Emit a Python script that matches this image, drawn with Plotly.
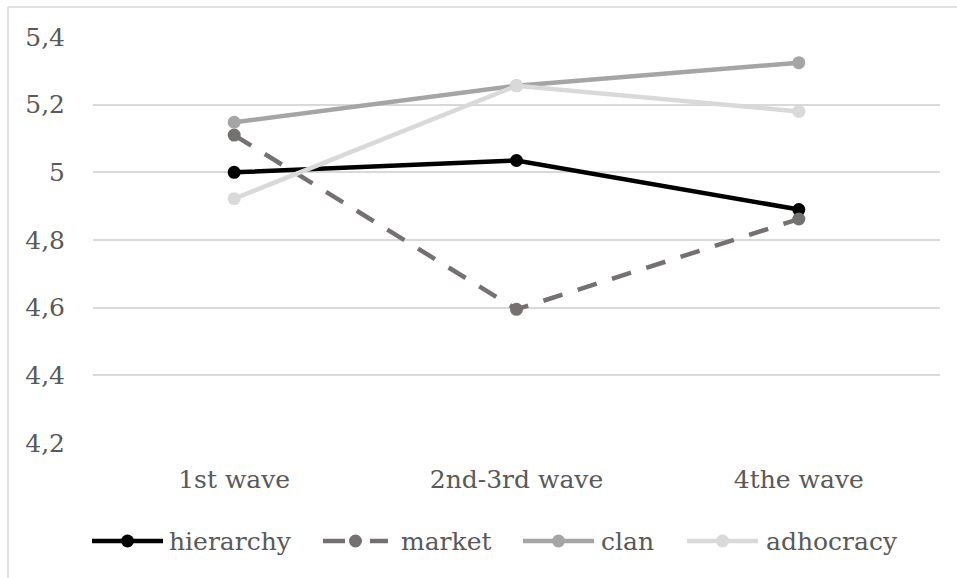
import plotly.graph_objects as go

# Survey waves and mean culture-type scores
waves = ["1st wave", "2nd-3rd wave", "4the wave"]
hierarchy = [5.00, 5.035, 4.89]
market = [5.11, 4.595, 4.862]
clan = [5.148, 5.256, 5.324]
adhocracy = [4.922, 5.256, 5.18]

y_ticks = [4.2, 4.4, 4.6, 4.8, 5.0, 5.2, 5.4]
y_tick_text = ["4,2", "4,4", "4,6", "4,8", "5", "5,2", "5,4"]

series = [
    ("hierarchy", hierarchy, "#000000", "solid"),
    ("market", market, "#767171", "20px,16px"),
    ("clan", clan, "#A5A5A5", "solid"),
    ("adhocracy", adhocracy, "#D9D9D9", "solid"),
]

FONT = "DejaVu Serif"
FS = 25
TEXT = "#595959"
LW = 4.5
MS = 13

W, H = 957, 578
L, R, T, B = 93, 17, 37, 135
pw, ph = W - L - R, H - T - B


def px(x):
    return (x - L) / pw


def py(y):
    return (H - B - y) / ph


fig = go.Figure()
for name, vals, color, dash in series:
    fig.add_trace(go.Scatter(
        x=waves, y=vals, name=name, mode="lines+markers",
        line=dict(color=color, width=LW, dash=dash),
        marker=dict(color=color, size=MS),
        showlegend=False,
    ))

# Light frame around the chart area (top and left edges)
fig.add_shape(type="line", xref="paper", yref="paper", x0=px(8), x1=px(W + 5),
              y0=py(7), y1=py(7), line=dict(color="#D9D9D9", width=1.5))
fig.add_shape(type="line", xref="paper", yref="paper", x0=px(8), x1=px(8),
              y0=py(7), y1=py(H + 5), line=dict(color="#D9D9D9", width=1.5))

# Legend row below the category labels
legend_y = 541
legend_items = [
    # series index, line start, line end, text start
    (0, 92, 163, 168),
    (1, 323, 388, 400),
    (2, 523, 594, 600),
    (3, 687, 758, 765),
]
for idx, x0, x1, tx in legend_items:
    name, _, color, dash = series[idx]
    cx = (x0 + x1) / 2
    if dash == "solid":
        segs = [(x0, x1)]
    else:
        segs = [(x0, x0 + 22), (x1 - 18, x1)]
    for a, b in segs:
        fig.add_shape(type="line", xref="paper", yref="paper",
                      x0=px(a), x1=px(b), y0=py(legend_y), y1=py(legend_y),
                      line=dict(color=color, width=LW))
    fig.add_shape(type="circle", xref="paper", yref="paper",
                  x0=px(cx - MS / 2), x1=px(cx + MS / 2),
                  y0=py(legend_y + MS / 2), y1=py(legend_y - MS / 2),
                  fillcolor=color, line=dict(width=0))
    fig.add_annotation(xref="paper", yref="paper", x=px(tx), y=py(legend_y),
                       text=name, showarrow=False, xanchor="left",
                       yanchor="middle", xshift=-1,
                       font=dict(family=FONT, size=FS, color=TEXT))

fig.update_layout(
    width=W, height=H,
    margin=dict(l=L, r=R, t=T, b=B),
    paper_bgcolor="white", plot_bgcolor="white",
    font=dict(family=FONT, size=FS, color=TEXT),
    showlegend=False,
    xaxis=dict(
        showgrid=False, zeroline=False, showline=False, ticks="",
        tickfont=dict(family=FONT, size=FS, color=TEXT),
        range=[-0.5, 2.5], ticklabelstandoff=19,
    ),
    yaxis=dict(
        range=[4.2, 5.4], tickvals=y_ticks, ticktext=y_tick_text,
        showgrid=True, gridcolor="#D9D9D9", gridwidth=1.5,
        zeroline=False, showline=False, ticks="",
        tickfont=dict(family=FONT, size=FS, color=TEXT),
        ticklabelstandoff=27,
    ),
)

fig.write_html("out.html")
